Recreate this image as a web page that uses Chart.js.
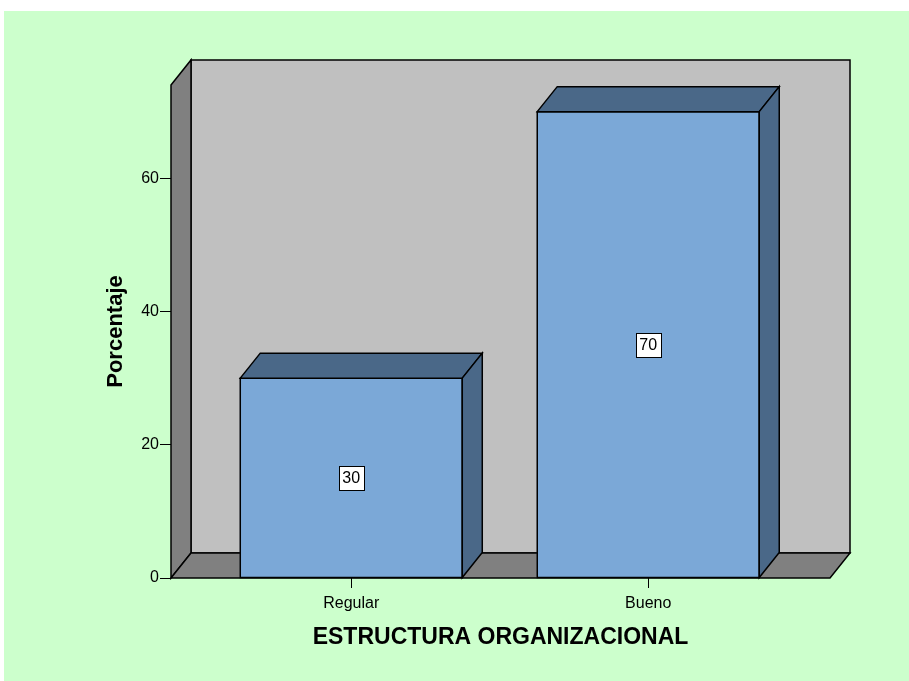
<!DOCTYPE html>
<html>
<head>
<meta charset="utf-8">
<script src="https://cdn.jsdelivr.net/npm/chart.js@4.4.0/dist/chart.umd.min.js"></script>
<style>
  html, body { margin: 0; padding: 0; background: #fff; }
  #wrap { position: absolute; left: 4px; top: 11px; width: 905px; height: 670px; background: #ccffcc; }
</style>
</head>
<body>
<div id="wrap"><canvas id="chart"></canvas></div>
<script>
// ESTRUCTURA ORGANIZACIONAL — SPSS-style 3D bar chart, percent per category.
const CATEGORIES = ["Regular", "Bueno"];
const PERCENTS = [30, 70];
const Y_TICKS = [0, 20, 40, 60];
const Y_MAX = 74;

const FONT = "Arial, 'Liberation Sans', sans-serif";
const DEPTH = { dx: 20, dy: -25 };
const COLORS = {
  wall: "#c0c0c0",
  side: "#808080",
  bar: "#7ba8d7",
  barDark: "#4a6888",
  line: "#000",
};

function poly(ctx, pts, fill) {
  ctx.beginPath();
  ctx.moveTo(pts[0][0], pts[0][1]);
  for (let i = 1; i < pts.length; i++) ctx.lineTo(pts[i][0], pts[i][1]);
  ctx.closePath();
  ctx.fillStyle = fill;
  ctx.fill();
  ctx.lineWidth = 1.5;
  ctx.lineJoin = "miter";
  ctx.strokeStyle = COLORS.line;
  ctx.stroke();
}

// back wall, left wall and floor behind the bars
const box3d = {
  id: "box3d",
  beforeDatasetsDraw(chart) {
    const { ctx, chartArea: a } = chart;
    const { dx, dy } = DEPTH;
    ctx.save();
    poly(ctx, [[a.left + dx, a.top + dy], [a.right + dx, a.top + dy], [a.right + dx, a.bottom + dy], [a.left + dx, a.bottom + dy]], COLORS.wall);
    poly(ctx, [[a.left, a.top], [a.left + dx, a.top + dy], [a.left + dx, a.bottom + dy], [a.left, a.bottom]], COLORS.side);
    poly(ctx, [[a.left, a.bottom], [a.left + dx, a.bottom + dy], [a.right + dx, a.bottom + dy], [a.right, a.bottom]], COLORS.side);
    ctx.restore();
  },
  afterDatasetsDraw(chart) {
    const { ctx } = chart;
    const { dx, dy } = DEPTH;
    ctx.save();
    chart.getDatasetMeta(0).data.forEach((bar, i) => {
      const { x, y, base, width } = bar.getProps(["x", "y", "base", "width"], true);
      const l = x - width / 2, r = x + width / 2;
      poly(ctx, [[l, y], [r, y], [r, base], [l, base]], COLORS.bar);
      poly(ctx, [[l, y], [l + dx, y + dy], [r + dx, y + dy], [r, y]], COLORS.barDark);
      poly(ctx, [[r, y], [r + dx, y + dy], [r + dx, base + dy], [r, base]], COLORS.barDark);

      // value label box in the middle of the bar
      const txt = String(PERCENTS[i]);
      ctx.font = "16px " + FONT;
      const tw = ctx.measureText(txt).width;
      const bw = Math.round(tw + 7), bh = 24;
      const cy = (y + base) / 2;
      const bx = Math.round(x - bw / 2) + 0.5, by = Math.round(cy - bh / 2) + 0.5;
      ctx.fillStyle = "#fff";
      ctx.fillRect(bx, by, bw, bh);
      ctx.lineWidth = 1;
      ctx.strokeStyle = "#000";
      ctx.strokeRect(bx, by, bw, bh);
      ctx.fillStyle = "#000";
      ctx.textAlign = "center";
      ctx.textBaseline = "middle";
      ctx.fillText(txt, x, cy + 1);
    });
    ctx.restore();
  },
};

new Chart(document.getElementById("chart"), {
  type: "bar",
  data: {
    datasets: [{
      data: PERCENTS.map((v, i) => ({ x: i, y: v })),
      backgroundColor: COLORS.bar,
      borderWidth: 0,
      barThickness: 222,
    }],
  },
  options: {
    responsive: true,
    maintainAspectRatio: false,
    animation: false,
    events: [],
    layout: { padding: { top: 74, right: 79, left: 0, bottom: 0 } },
    plugins: { legend: { display: false }, tooltip: { enabled: false } },
    scales: {
      x: {
        type: "linear",
        min: -0.607,
        max: 1.612,
        offset: false,
        afterBuildTicks: (s) => { s.ticks = CATEGORIES.map((_, i) => ({ value: i })); },
        afterFit: (s) => { s.height = 103; },
        ticks: {
          callback: (v, i) => CATEGORIES[i],
          color: "#000",
          font: { family: FONT, size: 16 },
          padding: 6,
          autoSkip: false,
          maxRotation: 0,
        },
        grid: { offset: false, drawOnChartArea: false, drawTicks: true, tickLength: 10, color: "#000", lineWidth: 1 },
        border: { display: false },
        title: {
          display: true,
          text: "ESTRUCTURA ORGANIZACIONAL",
          color: "#000",
          font: { family: FONT, size: 23, weight: "bold" },
          padding: { top: 0, bottom: 30 },
        },
      },
      y: {
        min: 0,
        max: Y_MAX,
        afterBuildTicks: (s) => { s.ticks = Y_TICKS.map((v) => ({ value: v })); },
        afterFit: (s) => { s.width = 167; },
        ticks: { color: "#000", font: { family: FONT, size: 16 }, padding: 1 },
        grid: { drawOnChartArea: false, drawTicks: true, tickLength: 11, color: "#000", lineWidth: 1 },
        border: { display: false },
        title: {
          display: true,
          text: "Porcentaje",
          color: "#000",
          font: { family: FONT, size: 22, weight: "bold" },
          padding: { top: 99, bottom: 0 },
        },
      },
    },
  },
  plugins: [box3d],
});
</script>
</body>
</html>
